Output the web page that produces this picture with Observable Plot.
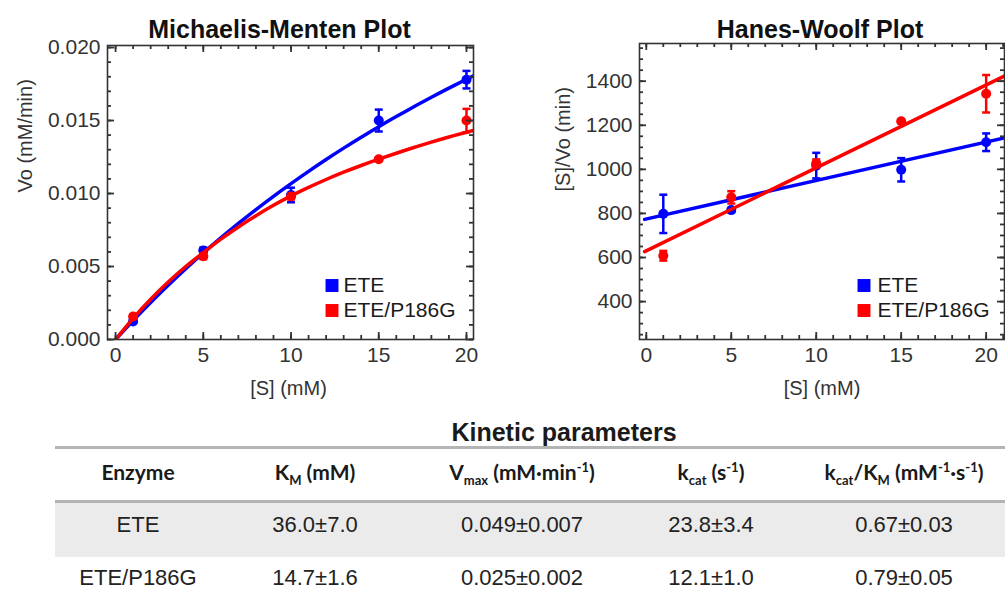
<!DOCTYPE html>
<html>
<head>
<meta charset="utf-8">
<script src="https://cdn.jsdelivr.net/npm/d3@7"></script>
<script src="https://cdn.jsdelivr.net/npm/@observablehq/plot@0.6"></script>
<style>
  html, body { margin: 0; padding: 0; background: #fff; }
  body { width: 1005px; height: 605px; overflow: hidden; position: relative; font-family: "Liberation Sans", Arial, sans-serif; }
  #mm { position: absolute; left: 0; top: 0; }
  #hw { position: absolute; left: 540px; top: 0; }
  .hline { position: absolute; left: 55px; width: 950px; height: 3px; background: #b4b4b4; }
  .band { position: absolute; left: 55px; width: 950px; background: #ebebeb; }
  .cell { position: absolute; height: 40px; line-height: 40px; transform: translateX(-50%); white-space: nowrap; color: #222; }
  .val { font-family: "Liberation Sans", Arial, sans-serif; font-size: 22px; }
  .head { font-family: Lato, "Open Sans", sans-serif; font-weight: 700; font-size: 21px; color: #1a1a1a; }
  .head sub, .head sup { font-size: 0.62em; line-height: 0; }
  .head sub { vertical-align: -0.35em; }
  .head sup { vertical-align: 0.6em; }
  #ttl { position: absolute; left: 564px; top: 412px; height: 40px; line-height: 40px; transform: translateX(-50%); font-weight: 700; font-size: 25px; color: #1a1a1a; white-space: nowrap; }
</style>
</head>
<body>
<div id="mm"></div>
<div id="hw"></div>
<script>
// ---------- data ----------
const conc = [1, 5, 10, 15, 20];                       // [S] (mM)
const seriesNames = ["ETE", "ETE/P186G"];
const seriesColors = ["#0000ff", "#ff0000"];

// Michaelis-Menten: Vo (mM/min)
const mmETE = [0.00124, 0.0061, 0.0099, 0.0150, 0.0178];
const mmETEerr = [0.0001, 0.0002, 0.0005, 0.00075, 0.0006];
const mmP186G = [0.00158, 0.0057, 0.0098, 0.01235, 0.0150];
const mmP186Gerr = [0.0001, 0.0002, 0.0002, 0.0001, 0.0008];

// fitted curves
const mmFitS = [0, 1, 2, 3, 4, 5, 6, 7, 8, 9, 10, 11, 12, 13, 14, 15, 16, 17, 18, 19, 20, 20.4];
const mmFitETE = [0, 0.00130, 0.00254, 0.00372, 0.00485, 0.00593, 0.00696, 0.00795, 0.00890, 0.00981, 0.01068, 0.01152, 0.01233, 0.01311, 0.01386, 0.01458, 0.01527, 0.01594, 0.01659, 0.01722, 0.01783, 0.01807];
const mmFitP186G = [0, 0.00145, 0.00276, 0.00394, 0.00500, 0.00595, 0.00687, 0.00771, 0.00848, 0.00919, 0.00984, 0.01042, 0.01096, 0.01146, 0.01192, 0.01235, 0.01276, 0.01315, 0.01352, 0.01387, 0.01420, 0.01433];

// Hanes-Woolf: [S]/Vo (min)
const hwETE = [798, 815, 1017, 998, 1123];
const hwETEerr = [87, 10, 58, 53, 40];
const hwP186G = [608, 873, 1027, 1218, 1343];
const hwP186Gerr = [22, 28, 18, 8, 85];
const hwLineS = [-0.1, 21.1];
const hwLineETE = [773, 1143];
const hwLineP186G = [627, 1424];

// ticks
const mmXMajor = [0, 5, 10, 15, 20];
const mmXMinor = d3.range(0, 21, 1);
const mmYMajor = [0, 0.005, 0.010, 0.015, 0.020];
const mmYMinor = d3.range(0, 21).map(i => i / 1000);
const hwXMajor = [0, 5, 10, 15, 20];
const hwXMinor = d3.range(0, 22, 1);
const hwYMajor = [400, 600, 800, 1000, 1200, 1400];
const hwYMinor = d3.range(250, 1600, 50);

// table
const tableTitle = "Kinetic parameters";
const tableHeaders = ["Enzyme", "K<sub>M</sub> (mM)", "V<sub>max</sub> (mM·min<sup>-1</sup>)", "k<sub>cat</sub> (s<sup>-1</sup>)", "k<sub>cat</sub>/K<sub>M</sub> (mM<sup>-1</sup>·s<sup>-1</sup>)"];
const tableEnzymes = ["ETE", "ETE/P186G"];
const tableKM = ["36.0±7.0", "14.7±1.6"];
const tableVmax = ["0.049±0.007", "0.025±0.002"];
const tableKcat = ["23.8±3.4", "12.1±1.0"];
const tableKcatKM = ["0.67±0.03", "0.79±0.05"];

// ---------- helpers ----------
const rOf = size => Math.sqrt(size / Math.PI);
const cap = { draw(ctx, size) { const r = rOf(size); ctx.moveTo(-r, 0); ctx.lineTo(r, 0); } };
const pts = (vals, errs) => conc.map((s, i) => ({ s, v: vals[i], e: errs[i] }));
const curve = (xs, ys) => xs.map((s, i) => ({ s, v: ys[i] }));
const ink = "#333333";
const FONT = "'Liberation Sans', Arial, sans-serif";

function seriesMarks(data, fit, color) {
  return [
    Plot.line(fit, { x: "s", y: "v", stroke: color, strokeWidth: 3.5, curve: "natural", clip: true }),
    Plot.ruleX(data, { x: "s", y1: d => d.v - d.e, y2: d => d.v + d.e, stroke: color, strokeWidth: 2.5 }),
    Plot.dot(data, { x: "s", y: d => d.v + d.e, symbol: cap, r: 4, stroke: color, strokeWidth: 2.5 }),
    Plot.dot(data, { x: "s", y: d => d.v - d.e, symbol: cap, r: 4, stroke: color, strokeWidth: 2.5 }),
    Plot.dot(data, { x: "s", y: "v", r: 5, fill: color })
  ];
}

// inward ticks on all four sides: full-frame rules trimmed by insets
function tickMarks(W, H, xMinor, xMajor, yMinor, yMajor) {
  const out = [];
  const sw = 1.8;
  [[xMinor, 4], [xMajor, 7]].forEach(([ticks, len]) => {
    out.push(Plot.ruleX(ticks, { x: d => d, insetTop: H - len, stroke: ink, strokeWidth: sw }));
    out.push(Plot.ruleX(ticks, { x: d => d, insetBottom: H - len, stroke: ink, strokeWidth: sw }));
  });
  [[yMinor, 4], [yMajor, 7]].forEach(([ticks, len]) => {
    out.push(Plot.ruleY(ticks, { y: d => d, insetRight: W - len, stroke: ink, strokeWidth: sw }));
    out.push(Plot.ruleY(ticks, { y: d => d, insetLeft: W - len, stroke: ink, strokeWidth: sw }));
  });
  return out;
}
function labelAxes(xMajor, yMajor, yFmt) {
  return [
    Plot.axisX(xMajor, { anchor: "bottom", tickSize: 0, tickPadding: 8, label: null, fill: ink, fontSize: 21, tickFormat: d => String(d) }),
    Plot.axisY(yMajor, { anchor: "left", tickSize: 0, tickPadding: 7, label: null, fill: ink, fontSize: 21, tickFormat: yFmt })
  ];
}

function legendMarks(dx, dy, tdx) {
  const out = [];
  seriesNames.forEach((name, i) => {
    out.push(Plot.dot([name], { frameAnchor: "top-left", dx, dy: dy + 25 * i, symbol: "square", r: 7.3, fill: seriesColors[i] }));
    out.push(Plot.text([name], { frameAnchor: "top-left", dx: tdx, dy: dy + 25 * i, text: d => d, textAnchor: "start", lineAnchor: "middle", fontSize: 21, fill: "#1a1a1a" }));
  });
  return out;
}

// ---------- Michaelis-Menten ----------
const mmM = { w: 490, h: 400, l: 107, r: 17, t: 45, b: 61 };
const mmChart = Plot.plot({
  width: mmM.w, height: mmM.h,
  marginLeft: mmM.l, marginRight: mmM.r, marginTop: mmM.t, marginBottom: mmM.b,
  style: { fontFamily: FONT, fontSize: "21px", color: ink, background: "transparent" },
  x: { domain: [-0.46, 20.4] },
  y: { domain: [0, 0.02014] },
  marks: [
    ...seriesMarks(pts(mmETE, mmETEerr), curve(mmFitS, mmFitETE), seriesColors[0]),
    ...seriesMarks(pts(mmP186G, mmP186Gerr), curve(mmFitS, mmFitP186G), seriesColors[1]),
    ...labelAxes(mmXMajor, mmYMajor, d3.format(".3f")),
    Plot.frame({ stroke: ink, strokeWidth: 1.6 }),
    ...tickMarks(mmM.w - mmM.l - mmM.r, mmM.h - mmM.t - mmM.b, mmXMinor, mmXMajor, mmYMinor, mmYMajor),
    ...legendMarks(224.5, 240, 236),
    Plot.text(["Michaelis-Menten Plot"], { frameAnchor: "top", dx: -11, dy: -16, text: d => d, fontSize: 25, fontWeight: "bold", fill: "#111", lineAnchor: "middle" }),
    Plot.text(["Vo (mM/min)"], { frameAnchor: "left", dx: -82, rotate: -90, text: d => d, fontSize: 20, fill: ink, lineAnchor: "middle" }),
    Plot.text(["[S] (mM)"], { frameAnchor: "bottom", dx: -2, dy: 49, text: d => d, fontSize: 20, fill: ink, lineAnchor: "middle" })
  ]
});
document.getElementById("mm").appendChild(mmChart);

// ---------- Hanes-Woolf ----------
const hwM = { w: 465, h: 400, l: 99, r: 1, t: 43, b: 61 };
const hwChart = Plot.plot({
  width: hwM.w, height: hwM.h,
  marginLeft: hwM.l, marginRight: hwM.r, marginTop: hwM.t, marginBottom: hwM.b,
  style: { fontFamily: FONT, fontSize: "21px", color: ink, background: "transparent" },
  x: { domain: [-0.4, 21.08] },
  y: { domain: [228, 1571] },
  marks: [
    ...seriesMarks(pts(hwETE, hwETEerr), curve(hwLineS, hwLineETE), seriesColors[0]),
    ...seriesMarks(pts(hwP186G, hwP186Gerr), curve(hwLineS, hwLineP186G), seriesColors[1]),
    ...labelAxes(hwXMajor, hwYMajor, d => String(d)),
    Plot.frame({ stroke: ink, strokeWidth: 1.6 }),
    ...tickMarks(hwM.w - hwM.l - hwM.r, hwM.h - hwM.t - hwM.b, hwXMinor, hwXMajor, hwYMinor, hwYMajor),
    ...legendMarks(224.5, 242, 238),
    Plot.text(["Hanes-Woolf Plot"], { frameAnchor: "top", dx: -2, dy: -14, text: d => d, fontSize: 25, fontWeight: "bold", fill: "#111", lineAnchor: "middle" }),
    Plot.text(["[S]/Vo (min)"], { frameAnchor: "left", dx: -76, rotate: -90, text: d => d, fontSize: 20, fill: ink, lineAnchor: "middle" }),
    Plot.text(["[S] (mM)"], { frameAnchor: "bottom", dy: 49, text: d => d, fontSize: 20, fill: ink, lineAnchor: "middle" })
  ]
});
document.getElementById("hw").appendChild(hwChart);

// ---------- table ----------
function addDiv(cls, style, html) {
  const d = document.createElement("div");
  d.className = cls;
  Object.assign(d.style, style);
  if (html !== undefined) d.innerHTML = html;
  document.body.appendChild(d);
  return d;
}
const ttl = document.createElement("div"); ttl.id = "ttl"; ttl.textContent = tableTitle; document.body.appendChild(ttl);
addDiv("band", { top: "503px", height: "54px" });
addDiv("hline", { top: "446px" });
addDiv("hline", { top: "500px" });
const colX = [138, 315, 522, 711, 904];
tableHeaders.forEach((h, j) => addDiv("cell head", { left: colX[j] + "px", top: (472 - 20) + "px" }, h));
const rowsY = [525, 578];
tableEnzymes.forEach((enz, i) => {
  const vals = [enz, tableKM[i], tableVmax[i], tableKcat[i], tableKcatKM[i]];
  vals.forEach((v, j) => {
    const d = addDiv("cell val", { left: colX[j] + "px", top: (rowsY[i] - 20) + "px" });
    d.textContent = v;
  });
});
</script>
</body>
</html>
